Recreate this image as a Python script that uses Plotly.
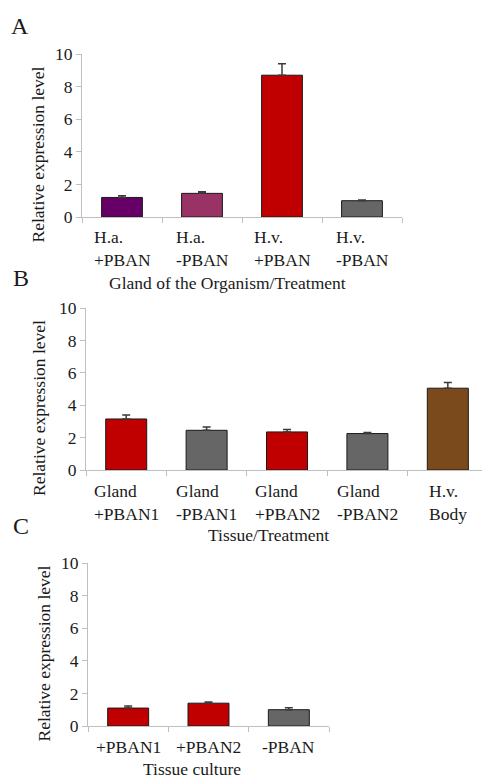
import plotly.graph_objects as go

# ---------------- data ----------------
cats_a = ["H.a. +PBAN", "H.a. -PBAN", "H.v. +PBAN", "H.v. -PBAN"]
labels_a = ["H.a.<br>+PBAN", "H.a.<br>-PBAN", "H.v.<br>+PBAN", "H.v.<br>-PBAN"]
vals_a = [1.2, 1.45, 8.7, 1.0]
errs_a = [0.1, 0.1, 0.7, 0.05]
colors_a = ["#660066", "#993366", "#C00000", "#666666"]

cats_b = ["Gland +PBAN1", "Gland -PBAN1", "Gland +PBAN2", "Gland -PBAN2", "H.v. Body"]
labels_b = ["Gland<br>+PBAN1", "Gland<br>-PBAN1", "Gland<br>+PBAN2", "Gland<br>-PBAN2", "H.v.<br>Body"]
vals_b = [3.15, 2.45, 2.35, 2.25, 5.05]
errs_b = [0.25, 0.2, 0.15, 0.07, 0.35]
colors_b = ["#C00000", "#666666", "#C00000", "#666666", "#7B4A1C"]

cats_c = ["+PBAN1", "+PBAN2", "-PBAN"]
labels_c = ["+PBAN1", "+PBAN2", "-PBAN"]
vals_c = [1.1, 1.4, 1.0]
errs_c = [0.12, 0.08, 0.12]
colors_c = ["#C00000", "#C00000", "#666666"]

y_ticks = [0, 2, 4, 6, 8, 10]
titles_x = ["Gland of the Organism/Treatment", "Tissue/Treatment", "Tissue culture"]
title_y = "Relative expression level"
panel_letters = ["A", "B", "C"]

# ---------------- layout geometry ----------------
W, H = 482, 778
FONT = "Liberation Serif"
FS = 17.5
TXT = "#1a1a1a"
AXC = "#BFBFBF"

def px_x(p):
    return p / W

def px_y(p):
    return 1 - p / H

panels = [
    dict(cats=cats_a, labels=labels_a, vals=vals_a, errs=errs_a, colors=colors_a,
         xd=(82, 402), yd=(54, 217), xr=[-0.5, 3.5], ls=-8,
         xt=(227, 283), yt=(37.5, 155), lt=(20, 26)),
    dict(cats=cats_b, labels=labels_b, vals=vals_b, errs=errs_b, colors=colors_b,
         xd=(86, 482), yd=(308, 470), xr=[-0.5, 4.425], ls=-9,
         xt=(268, 535), yt=(39, 408), lt=(21, 278)),
    dict(cats=cats_c, labels=labels_c, vals=vals_c, errs=errs_c, colors=colors_c,
         xd=(88, 329), yd=(563, 726), xr=[-0.5, 2.5], ls=-9,
         xt=(192, 769), yt=(43.5, 654), lt=(21, 526)),
]

fig = go.Figure()
annotations = []
font = dict(family=FONT, size=FS, color=TXT)

for i, p in enumerate(panels):
    k = "" if i == 0 else str(i + 1)
    xa, ya = "x" + k, "y" + k
    n = len(p["cats"])
    fig.add_trace(go.Bar(
        x=list(range(n)), y=p["vals"],
        xaxis=xa, yaxis=ya,
        width=0.51,
        marker=dict(color=p["colors"], line=dict(color="#1a1a1a", width=1)),
        error_y=dict(type="data", array=p["errs"], symmetric=False,
                     arrayminus=[0] * n,
                     color="#3a3a3a", thickness=1.5, width=4),
        hovertext=p["cats"], showlegend=False,
    ))
    fig.update_layout(**{
        "xaxis" + k: dict(
            domain=[px_x(p["xd"][0]), px_x(p["xd"][1])],
            anchor=ya, range=p["xr"], type="linear", automargin=False,
            showline=True, linecolor=AXC, linewidth=1,
            ticks="outside", ticklen=5, tickcolor=AXC, tickwidth=1,
            tickmode="array", tickvals=[j - 0.5 for j in range(n + 1)],
            showticklabels=False, showgrid=False, zeroline=False,
        ),
        "yaxis" + k: dict(
            domain=[px_y(p["yd"][1]), px_y(p["yd"][0])],
            anchor=xa, range=[0, 10], tickmode="array", tickvals=y_ticks,
            automargin=False,
            showline=True, linecolor=AXC, linewidth=1,
            ticks="outside", ticklen=5, tickcolor=AXC, tickwidth=1,
            tickfont=font,
            showgrid=False, zeroline=False,
        ),
    })
    # category labels: lines left-aligned within a box centred on the bar
    for j, lab in enumerate(p["labels"]):
        annotations.append(dict(
            x=j, y=0, xref=xa, yref=ya, text=lab, showarrow=False,
            xanchor="center", yanchor="top", align="left", yshift=p["ls"],
            font=font,
        ))
    annotations.append(dict(
        x=px_x(p["xt"][0]), y=px_y(p["xt"][1]), xref="paper", yref="paper",
        text=titles_x[i], showarrow=False, xanchor="center", yanchor="middle",
        font=font,
    ))
    annotations.append(dict(
        x=px_x(p["yt"][0]), y=px_y(p["yt"][1]), xref="paper", yref="paper",
        text=title_y, showarrow=False, textangle=-90,
        xanchor="center", yanchor="middle",
        font=font,
    ))
    annotations.append(dict(
        x=px_x(p["lt"][0]), y=px_y(p["lt"][1]), xref="paper", yref="paper",
        text=panel_letters[i], showarrow=False, xanchor="center", yanchor="middle",
        font=dict(family=FONT, size=24, color=TXT),
    ))

fig.update_layout(
    template="none",
    width=W, height=H, margin=dict(l=0, r=0, t=0, b=0, autoexpand=False),
    paper_bgcolor="white", plot_bgcolor="white",
    annotations=annotations, bargap=0.49,
)

fig.write_html("out.html")
